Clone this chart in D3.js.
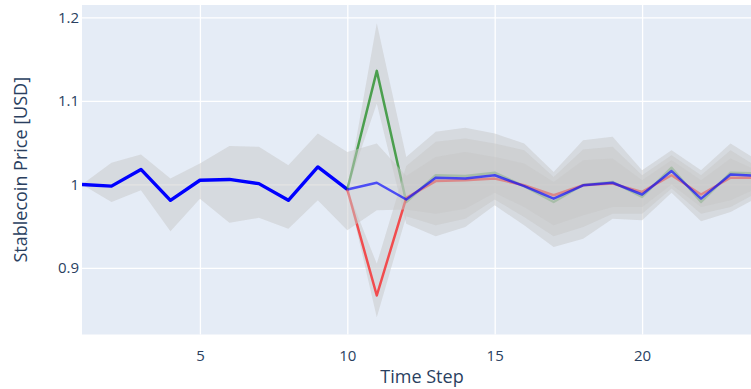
<!DOCTYPE html>
<html>
<head>
<meta charset="utf-8">
<script src="https://cdn.jsdelivr.net/npm/d3@7"></script>
<style>
  html, body { margin: 0; padding: 0; background: #ffffff; overflow: hidden; }
  svg { display: block; font-family: "Open Sans", "DejaVu Sans", sans-serif; }
</style>
</head>
<body>
<svg id="chart" width="751" height="389"></svg>
<script>
// Simulated stablecoin price: history (steps 1-10) and three scenarios (steps 10-24)
const histSteps = [1, 2, 3, 4, 5, 6, 7, 8, 9, 10];
const histPrice = [1.000, 0.998, 1.018, 0.981, 1.005, 1.006, 1.001, 0.981, 1.021, 0.994];
const histUpper = [1.000, 1.026, 1.036, 1.007, 1.025, 1.046, 1.045, 1.023, 1.061, 1.039];
const histLower = [1.000, 0.979, 0.993, 0.944, 0.983, 0.954, 0.960, 0.947, 0.981, 0.945];

const scenSteps = [10, 11, 12, 13, 14, 15, 16, 17, 18, 19, 20, 21, 22, 23, 24];

// positive shock
const upPrice = [0.994, 1.136, 0.979, 1.011, 1.010, 1.014, 0.998, 0.979, 0.9996, 1.003, 0.985, 1.020, 0.979, 1.014, 1.013];
const upUpper = [0.994, 1.193, 1.033, 1.063, 1.068, 1.061, 1.049, 1.015, 1.053, 1.057, 1.017, 1.041, 1.017, 1.049, 1.027];
const upLower = [0.994, 1.097, 0.953, 0.938, 0.949, 0.975, 0.951, 0.925, 0.935, 0.959, 0.957, 0.990, 0.956, 0.967, 0.986];

// negative shock
const downPrice = [0.994, 0.867, 0.984, 1.004, 1.005, 1.007, 0.999, 0.987, 0.999, 1.001, 0.991, 1.011, 0.988, 1.008, 1.008];
const downUpper = [0.994, 0.905, 1.022, 1.051, 1.055, 1.049, 1.041, 1.009, 1.042, 1.045, 1.011, 1.035, 1.011, 1.041, 1.019];
const downLower = [0.994, 0.841, 0.962, 0.951, 0.959, 0.982, 0.961, 0.938, 0.949, 0.965, 0.965, 0.995, 0.965, 0.973, 0.992];

// no shock
const basePrice = [0.994, 1.002, 0.982, 1.008, 1.007, 1.011, 0.998, 0.983, 0.999, 1.002, 0.988, 1.016, 0.983, 1.012, 1.010];
const baseUpper = [1.039, 1.049, 1.010, 1.033, 1.039, 1.033, 1.025, 1.003, 1.029, 1.031, 1.005, 1.029, 1.005, 1.031, 1.015];
const baseLower = [0.945, 0.969, 0.970, 0.965, 0.971, 0.990, 0.973, 0.951, 0.963, 0.973, 0.973, 1.000, 0.973, 0.981, 0.997];

const xTickValues = [5, 10, 15, 20];
const yTickValues = [0.9, 1.0, 1.1, 1.2];
const yTickLabels = ["0.9", "1", "1.1", "1.2"];

const xTitle = "Time Step";
const yTitle = "Stablecoin Price [USD]";

// layout
const plot = { left: 82, top: 5, right: 760, bottom: 334.5 };
const ink = "#2a3f5f";
const bandFill = "rgba(200,200,200,0.5)";

const svg = d3.select("#chart");

const x = d3.scaleLinear().domain([1, 24]).range([plot.left, plot.right]);
const y = d3.scaleLinear().domain([0.8203, 1.2149]).range([plot.bottom, plot.top]);

// plot background
svg.append("rect")
  .attr("x", plot.left).attr("y", plot.top)
  .attr("width", plot.right - plot.left).attr("height", plot.bottom - plot.top)
  .attr("fill", "#E5ECF6");

svg.append("clipPath").attr("id", "plot-clip")
  .append("rect")
  .attr("x", plot.left).attr("y", plot.top)
  .attr("width", plot.right - plot.left).attr("height", plot.bottom - plot.top);

// grid lines
const xGrid = svg.append("g")
  .attr("transform", `translate(0,${plot.bottom})`)
  .call(d3.axisBottom(x).tickValues(xTickValues).tickSize(-(plot.bottom - plot.top)).tickFormat(""));
const yGrid = svg.append("g")
  .attr("transform", `translate(${plot.left},0)`)
  .call(d3.axisLeft(y).tickValues(yTickValues).tickSize(-(plot.right - plot.left)).tickFormat(""));
[xGrid, yGrid].forEach(g => {
  g.select(".domain").remove();
  g.selectAll(".tick line").attr("stroke", "#ffffff").attr("stroke-width", 1.3);
});

// tick labels
const xAxis = svg.append("g")
  .attr("transform", `translate(0,${plot.bottom})`)
  .call(d3.axisBottom(x).tickValues(xTickValues).tickSize(0).tickPadding(16).tickFormat(d3.format("d")));
const yAxis = svg.append("g")
  .attr("transform", `translate(${plot.left},0)`)
  .call(d3.axisLeft(y).tickValues(yTickValues).tickSize(0).tickPadding(3)
    .tickFormat(d => yTickLabels[yTickValues.indexOf(d)]));
[xAxis, yAxis].forEach(g => {
  g.select(".domain").remove();
  g.selectAll(".tick text")
    .attr("fill", ink)
    .style("font-family", "'Open Sans', sans-serif")
    .style("font-size", "15px");
});

// axis titles
svg.append("text")
  .attr("x", (plot.left + plot.right) / 2 + 1)
  .attr("y", 383)
  .attr("text-anchor", "middle")
  .attr("fill", ink)
  .style("font-size", "18px")
  .text(xTitle);
svg.append("text")
  .attr("transform", `translate(27,${(plot.top + plot.bottom) / 2}) rotate(-90)`)
  .attr("text-anchor", "middle")
  .attr("fill", ink)
  .style("font-size", "18px")
  .text(yTitle);

// data layers
const layer = svg.append("g").attr("clip-path", "url(#plot-clip)");

function drawBand(steps, lower, upper) {
  const area = d3.area()
    .x((d, i) => x(steps[i]))
    .y0((d, i) => y(lower[i]))
    .y1((d, i) => y(upper[i]));
  layer.append("path").datum(steps).attr("d", area).attr("fill", bandFill).attr("stroke", "none");
}

function drawLine(steps, values, color, width, opacity) {
  const line = d3.line()
    .x((d, i) => x(steps[i]))
    .y((d, i) => y(values[i]));
  layer.append("path").datum(steps).attr("d", line)
    .attr("fill", "none")
    .attr("stroke", color)
    .attr("stroke-width", width)
    .attr("stroke-opacity", opacity)
    .attr("stroke-linejoin", "round");
}

drawBand(histSteps, histLower, histUpper);
drawLine(histSteps, histPrice, "#0000ff", 3.4, 1);

drawBand(scenSteps, upLower, upUpper);
drawLine(scenSteps, upPrice, "#008000", 2.5, 0.65);

drawBand(scenSteps, downLower, downUpper);
drawLine(scenSteps, downPrice, "#ff0000", 2.5, 0.65);

drawBand(scenSteps, baseLower, baseUpper);
drawLine(scenSteps, basePrice, "#0000ff", 2.5, 0.65);
</script>
</body>
</html>
